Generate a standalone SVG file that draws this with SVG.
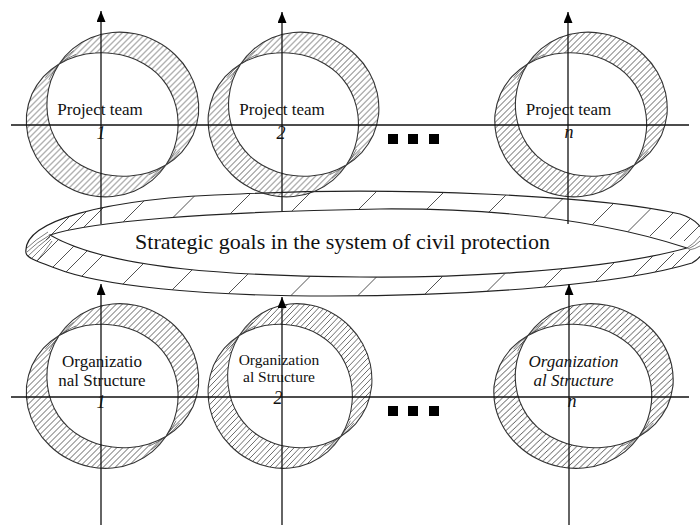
<svg xmlns="http://www.w3.org/2000/svg" width="700" height="525" viewBox="0 0 700 525">
<style>
.txt{font-family:"Liberation Serif","Times New Roman",serif;fill:#111;text-anchor:middle}
.lbl{font-size:17px}
.num{font-size:18px;font-style:italic}
.it{font-style:italic}
.ring{fill:url(#hatch);fill-rule:evenodd;stroke:#333;stroke-width:1.1}
.fan{fill:none;stroke:#444;stroke-width:0.7}
.band{fill:#fff;fill-rule:evenodd;stroke:#222;stroke-width:1.2}
.bh{stroke:#333;stroke-width:0.85;fill:none}
.axis{stroke:#111;stroke-width:1.3;fill:none}
.arrow{stroke:#111;stroke-width:1.3;fill:none;marker-end:url(#arr)}
.dot{fill:#000}
</style>
<defs>
<pattern id="hatch" patternUnits="userSpaceOnUse" width="6" height="6">
<path d="M-1,7 L7,-1 M-4,4 L4,-4 M2,10 L10,2" stroke="#333" stroke-width="0.75"/>
</pattern>
<marker id="arr" viewBox="0 0 10 10" refX="10" refY="5" markerWidth="11" markerHeight="9" markerUnits="userSpaceOnUse" orient="auto" preserveAspectRatio="none">
<path d="M0,0 L10,5 L0,10 z" fill="#000"/>
</marker>
<clipPath id="bandClip">
<path clip-rule="evenodd" d="M26,253 C22,222 100,198 240,194 C400,186 600,196 680,214 C712,224 712,252 692,263 C620,285 470,296 330,296 C200,296 100,286 55,268 C36,261 27,258 26,253 Z M50,235 C90,222 200,212 380,209 C520,208 620,226 687,248 C600,272 450,278 360,277 C240,276 110,270 50,235 Z"/>
</clipPath>
<g id="ringShape">
<path class="ring" d="M65,0 A75,75 0 0 1 65.31,16.46 A75,75 0 0 1 61.69,33.62 A75,75 0 0 1 53.39,50.56 A75,75 0 0 1 39.88,65.61 A75,75 0 0 1 21.58,76.68 A75,75 0 0 1 0,82 A75,75 0 0 1 -22.66,80.71 A75,75 0 0 1 -44.15,73 A75,75 0 0 1 -62.58,59.75 A75,75 0 0 1 -76.47,42.15 A75,75 0 0 1 -84.57,21.63 A75,75 0 0 1 -86,0 A75,75 0 0 1 -80.55,-20.55 A75,75 0 0 1 -69.07,-37.88 A75,75 0 0 1 -53.39,-50.56 A75,75 0 0 1 -35.62,-58.23 A75,75 0 0 1 -17.5,-61.44 A75,75 0 0 1 0,-61 A75,75 0 0 1 16.42,-57.41 A75,75 0 0 1 31.35,-50.83 A75,75 0 0 1 44.19,-41.37 A75,75 0 0 1 54.3,-29.35 A75,75 0 0 1 61.28,-15.38 A75,75 0 0 1 65,0 Z M-65,0 A75,75 0 0 1 -65.31,-16.46 A75,75 0 0 1 -61.69,-33.62 A75,75 0 0 1 -53.39,-50.56 A75,75 0 0 1 -39.88,-65.61 A75,75 0 0 1 -21.58,-76.68 A75,75 0 0 1 0,-82 A75,75 0 0 1 22.66,-80.71 A75,75 0 0 1 44.15,-73 A75,75 0 0 1 62.58,-59.75 A75,75 0 0 1 76.47,-42.15 A75,75 0 0 1 84.57,-21.63 A75,75 0 0 1 86,0 A75,75 0 0 1 80.55,20.55 A75,75 0 0 1 69.07,37.88 A75,75 0 0 1 53.39,50.56 A75,75 0 0 1 35.62,58.23 A75,75 0 0 1 17.5,61.44 A75,75 0 0 1 0,61 A75,75 0 0 1 -16.42,57.41 A75,75 0 0 1 -31.35,50.83 A75,75 0 0 1 -44.19,41.37 A75,75 0 0 1 -54.3,29.35 A75,75 0 0 1 -61.28,15.38 A75,75 0 0 1 -65,0 Z"/>
<path class="fan" d="M63.54,34.69 A75,75 0 0 1 53.39,50.56 A75,75 0 0 1 38.82,63.76 M67.23,36.82 A75,75 0 0 1 53.39,50.56 A75,75 0 0 1 36.69,60.08 M-63.54,-34.69 A75,75 0 0 1 -53.39,-50.56 A75,75 0 0 1 -38.82,-63.76 M-67.23,-36.82 A75,75 0 0 1 -53.39,-50.56 A75,75 0 0 1 -36.69,-60.08"/>
</g>
</defs>
<rect width="700" height="525" fill="#fff"/>

<g id="strategic-goals">
<path class="band" d="M26,253 C22,222 100,198 240,194 C400,186 600,196 680,214 C712,224 712,252 692,263 C620,285 470,296 330,296 C200,296 100,286 55,268 C36,261 27,258 26,253 Z M50,235 C90,222 200,212 380,209 C520,208 620,226 687,248 C600,272 450,278 360,277 C240,276 110,270 50,235 Z"/>
<g clip-path="url(#bandClip)" class="bh">
<path d="M46,240 L78,208 M60,238 L92,206 M76,235 L108,203 M117,228 L149,196 M167,223.5 L199,191.5 M224,220 L256,188 M286,217 L318,185 M352,216 L384,184 M419,217 L451,185 M481,220 L513,188 M537,224.5 L569,192.5 M587,230 L619,198 M624,235.5 L656,203.5 M650,236 L674,212 M670,239 L690,219 M684,241 L700,225"/>
<path d="M36,262 L60,238 M48,272 L76,244 M60,278 L92,246 M76,282 L108,250 M117,290 L149,258 M167,295 L199,263 M224,298 L256,266 M286,300.5 L318,268.5 M352,301.5 L384,269.5 M419,300 L451,268 M481,297.5 L513,265.5 M537,294 L569,262 M587,290 L619,258 M624,285 L656,253 M650,277 L674,253 M670,270 L690,250"/>
<path class="fan" d="M27,248 Q35,240 48,232 M27,252 Q37,242 50,235 M28,256 Q38,246 50,237 M31,259 Q40,250 51,239 M36,262 Q44,253 52,241"/>
<path class="fan" d="M687,248 Q694,244 700,236 M688,249 Q695,246 700,241 M689,250 Q695,249 700,246"/>
</g>
<text class="txt" x="342.5" y="249" font-size="22">Strategic goals in the system of civil protection</text>
</g>

<g id="project-team-1">
<use href="#ringShape" transform="translate(112.5,114.5)"/>
<text class="txt lbl" x="100" y="115">Project team</text>
<text class="txt num" x="101" y="139">1</text>
</g>
<g id="project-team-2">
<use href="#ringShape" transform="translate(293.5,114.5) scale(0.99,1)"/>
<text class="txt lbl" x="282" y="115">Project team</text>
<text class="txt num" x="281" y="139">2</text>
</g>
<g id="project-team-n">
<use href="#ringShape" transform="translate(581,114.5)"/>
<text class="txt lbl" x="568.5" y="115">Project team</text>
<text class="txt num" x="569" y="138">n</text>
</g>

<g id="org-structure-1">
<use href="#ringShape" transform="translate(112.5,386)"/>
<text class="txt lbl" x="102" y="367">Organizatio</text>
<text class="txt lbl" x="102" y="386">nal Structure</text>
<text class="txt num" x="101" y="408">1</text>
</g>
<g id="org-structure-2">
<use href="#ringShape" transform="translate(290,386) scale(0.95,1)"/>
<text class="txt" x="279" y="365" font-size="15.5">Organization</text>
<text class="txt" x="279" y="382" font-size="15.5">al Structure</text>
<text class="txt num" x="278" y="404">2</text>
</g>
<g id="org-structure-n">
<use href="#ringShape" transform="translate(583.5,386) scale(1.04,1)"/>
<text class="txt lbl it" x="573.5" y="367">Organization</text>
<text class="txt lbl it" x="573.5" y="386">al Structure</text>
<text class="txt num" x="572" y="407">n</text>
</g>

<g id="ellipsis-top">
<rect class="dot" x="388" y="134" width="10" height="10"/>
<rect class="dot" x="408" y="134" width="10" height="10"/>
<rect class="dot" x="429" y="134" width="10" height="10"/>
</g>
<g id="ellipsis-bottom">
<rect class="dot" x="388" y="406" width="10" height="10"/>
<rect class="dot" x="408" y="406" width="10" height="10"/>
<rect class="dot" x="429" y="406" width="10" height="10"/>
</g>

<g id="connectors">
<line class="axis" x1="11" y1="125" x2="689" y2="125"/>
<line class="axis" x1="11" y1="397" x2="689" y2="397"/>
<line class="arrow" x1="101" y1="224" x2="101" y2="11"/>
<line class="arrow" x1="282" y1="211" x2="282" y2="12"/>
<line class="arrow" x1="568" y1="224" x2="568" y2="12"/>
<line class="arrow" x1="101" y1="525" x2="101" y2="284"/>
<line class="arrow" x1="282" y1="525" x2="282" y2="297"/>
<line class="arrow" x1="569" y1="525" x2="569" y2="284"/>
</g>
</svg>
